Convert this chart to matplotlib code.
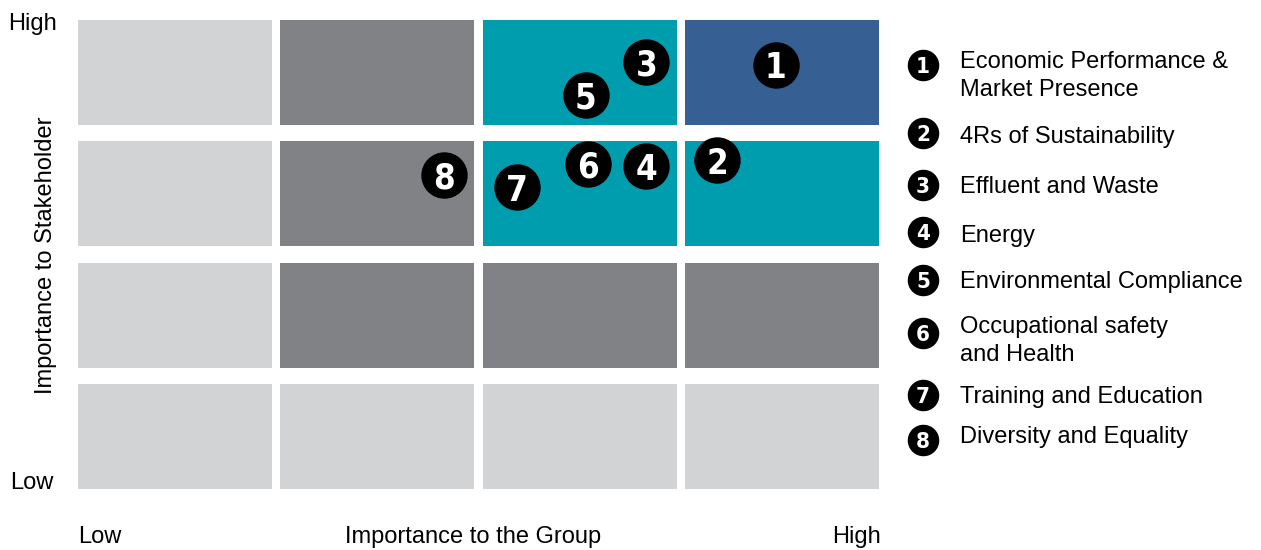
import matplotlib
matplotlib.use("Agg")
import matplotlib.pyplot as plt
from matplotlib import font_manager
from matplotlib.font_manager import FontProperties
from matplotlib.patches import Rectangle

# --- data ---
topics = [
    "Economic Performance &\nMarket Presence",
    "4Rs of Sustainability",
    "Effluent and Waste",
    "Energy",
    "Environmental Compliance",
    "Occupational safety\nand Health",
    "Training and Education",
    "Diversity and Equality",
]
topic_ids = [1, 2, 3, 4, 5, 6, 7, 8]
# importance to the group (x) and to stakeholders (y), scale 0-4
group_score = [3.45, 3.16, 2.81, 2.81, 2.51, 2.52, 2.17, 1.81]
stake_score = [3.50, 2.71, 3.52, 2.66, 3.25, 2.68, 2.49, 2.59]

# cell colours, rows from bottom (low) to top (high)
LIGHT, DARK, TEAL, BLUE = "#d1d3d4", "#808285", "#009daf", "#365f93"
cell_colors = [
    [LIGHT, LIGHT, LIGHT, LIGHT],
    [LIGHT, DARK, DARK, DARK],
    [LIGHT, DARK, TEAL, TEAL],
    [LIGHT, DARK, TEAL, BLUE],
]

W, H = 1261, 550
fig = plt.figure(figsize=(W / 100, H / 100), dpi=100)
plt.rcParams['font.family'] = ['Liberation Sans', 'DejaVu Sans']


def pick_number_font():
    # look for a narrow / condensed bold face for the numbered badges
    narrow = []
    for f in font_manager.fontManager.ttflist:
        cond = str(f.stretch) in ("condensed", "semi-condensed", "extra-condensed",
                                  "ultra-condensed") or "Condensed" in f.name or "Narrow" in f.name
        try:
            w = int(f.weight)
        except ValueError:
            w = 700 if "bold" in str(f.weight) else 400
        if cond and w >= 600:
            narrow.append(f)
    if narrow:
        narrow.sort(key=lambda f: ("DejaVu" not in f.name, f.name))
        return FontProperties(fname=narrow[0].fname), True
    return FontProperties(family="DejaVu Sans", weight="bold"), False


NUM_FONT, is_narrow = pick_number_font()
big_fs, small_fs = (25, 16) if is_narrow else (22, 13)

# grid axes placed in pixels
left, right, top, bottom = 78, 879, 20, 489
ax = fig.add_axes([left / W, 1 - bottom / H, (right - left) / W, (bottom - top) / H])
cw, ch = 0.96, 0.868
ax.set_xlim(0, 3 + cw)
ax.set_ylim(0, 3 + ch)
ax.axis("off")

for r, row in enumerate(cell_colors):
    for c, col in enumerate(row):
        ax.add_patch(Rectangle((c, r), cw, ch, facecolor=col, edgecolor="none"))

ax.scatter(group_score, stake_score, s=1050, color="black", zorder=3, clip_on=False)
for i, x, y in zip(topic_ids, group_score, stake_score):
    ax.text(x, y, str(i), ha="center", va="center_baseline", color="white",
            fontproperties=NUM_FONT, fontsize=big_fs, zorder=4)

# axis labels
fs = 17
fig.text(33 / W, 1 - 30 / H, "High", ha="center", va="baseline", fontsize=fs)
fig.text(32 / W, 1 - 489 / H, "Low", ha="center", va="baseline", fontsize=fs)
fig.text(46 / W, 1 - 255 / H, "Importance to Stakeholder", ha="center", va="center",
         rotation=90, fontsize=fs)
fig.text(100 / W, 1 - 543 / H, "Low", ha="center", va="baseline", fontsize=fs)
fig.text(473 / W, 1 - 543 / H, "Importance to the Group", ha="center", va="baseline", fontsize=fs)
fig.text(857 / W, 1 - 543 / H, "High", ha="center", va="baseline", fontsize=fs)

# legend
lg = fig.add_axes([0, 0, 1, 1])
lg.set_xlim(0, W)
lg.set_ylim(H, 0)
lg.axis("off")
badge_y = [65, 133, 185, 232, 280, 333, 395, 440]
text_base = [68, 143, 193, 242, 288, 333, 403, 443]
for i, name, by, ty in zip(topic_ids, topics, badge_y, text_base):
    lg.scatter([923], [by], s=470, color="black")
    lg.text(923, by, str(i), ha="center", va="center_baseline", color="white",
            fontproperties=NUM_FONT, fontsize=small_fs)
    for k, line in enumerate(name.split("\n")):
        lg.text(960, ty + 28 * k, line, ha="left", va="baseline", fontsize=fs)

fig.savefig("out.png", dpi=100)
